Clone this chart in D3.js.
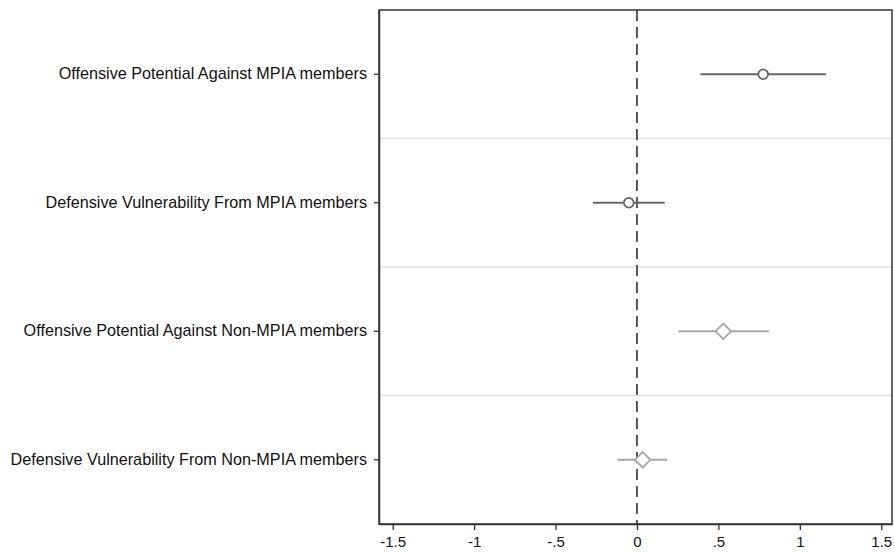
<!DOCTYPE html>
<html>
<head>
<meta charset="utf-8">
<script src="https://cdn.jsdelivr.net/npm/d3@7"></script>
<style>
  body { margin: 0; background: #fff; }
  svg { font-family: "Liberation Sans", Arial, sans-serif; }
</style>
</head>
<body>
<div id="chart"></div>
<script>
// coefficient plot data
var labels = [
    "Offensive Potential Against MPIA members",
    "Defensive Vulnerability From MPIA members",
    "Offensive Potential Against Non-MPIA members",
    "Defensive Vulnerability From Non-MPIA members"
]
var estimates = [0.775, -0.05, 0.53, 0.035]
var lower = [0.39, -0.27, 0.255, -0.12]
var upper = [1.16, 0.17, 0.81, 0.185]
var markers = ["circle", "circle", "diamond", "diamond"]
var xTicks = [-1.5, -1, -0.5, 0, 0.5, 1, 1.5]

var width = 895
var height = 553
var margin = { top: 10, right: 3, bottom: 29, left: 379 }

var svg = d3.select("#chart")
    .append("svg")
    .attr("width", width)
    .attr("height", height)

var x = d3.scaleLinear()
    .domain([-1.584, 1.566])
    .range([margin.left, width - margin.right])

var y = d3.scaleBand()
    .domain(labels)
    .range([margin.top, height - margin.bottom])

var colors = d3.scaleOrdinal()
    .domain(["circle", "diamond"])
    .range(["#666666", "#a6a6a6"])

// separators between rows
svg.selectAll(".sep")
    .data(labels.slice(1))
    .enter()
    .append("line")
    .attr("x1", x.range()[0])
    .attr("x2", x.range()[1])
    .attr("y1", function (d) { return y(d) })
    .attr("y2", function (d) { return y(d) })
    .attr("stroke", "#e0e0e0")
    .attr("stroke-width", 1.5)

// zero line
svg.append("line")
    .attr("x1", x(0)).attr("x2", x(0))
    .attr("y1", margin.top).attr("y2", height - margin.bottom)
    .attr("stroke", "#333")
    .attr("stroke-width", 1.6)
    .attr("stroke-dasharray", "11,6")

// frame
svg.append("rect")
    .attr("x", x.range()[0])
    .attr("y", margin.top)
    .attr("width", x.range()[1] - x.range()[0])
    .attr("height", height - margin.bottom - margin.top)
    .attr("fill", "none")
    .attr("stroke", "#333")
    .attr("stroke-width", 1.5)

// x axis (stata style: plain hyphen, no leading zero)
var xAxis = svg.append("g")
    .attr("transform", "translate(0," + (height - margin.bottom) + ")")
    .call(d3.axisBottom(x)
        .tickValues(xTicks)
        .tickSize(6)
        .tickSizeOuter(0)
        .tickFormat(function (d) {
            if (d === 0) return "0"
            return String(d).replace("0.", ".")
        }))
xAxis.select(".domain").attr("stroke", "#333").attr("stroke-width", 1.5)
xAxis.selectAll(".tick line").attr("stroke", "#333").attr("stroke-width", 1.3)
xAxis.selectAll("text").attr("font-size", 15).attr("fill", "#111").attr("dy", "0.9em")

// y axis
var yAxis = svg.append("g")
    .attr("transform", "translate(" + margin.left + ",0)")
    .call(d3.axisLeft(y).tickSize(5).tickSizeOuter(0).tickPadding(7))
yAxis.select(".domain").attr("stroke", "#333").attr("stroke-width", 1.5)
yAxis.selectAll(".tick line").attr("stroke", "#333").attr("stroke-width", 1.3)
yAxis.selectAll("text").attr("font-size", 16.2).attr("fill", "#111")

// confidence intervals
svg.selectAll(".ci")
    .data(labels)
    .enter()
    .append("line")
    .attr("x1", function (d, i) { return x(lower[i]) })
    .attr("x2", function (d, i) { return x(upper[i]) })
    .attr("y1", function (d) { return y(d) + y.bandwidth() / 2 })
    .attr("y2", function (d) { return y(d) + y.bandwidth() / 2 })
    .attr("stroke", function (d, i) { return colors(markers[i]) })
    .attr("stroke-width", 2)

// point estimates
var circleSym = d3.symbol().type(d3.symbolCircle).size(75)
var diamondSym = d3.symbol().type(d3.symbolSquare).size(120)
svg.selectAll(".pt")
    .data(labels)
    .enter()
    .append("path")
    .attr("d", function (d, i) { return markers[i] === "circle" ? circleSym() : diamondSym() })
    .attr("transform", function (d, i) {
        var t = "translate(" + x(estimates[i]) + "," + (y(d) + y.bandwidth() / 2) + ")"
        return markers[i] === "diamond" ? t + " rotate(45)" : t
    })
    .attr("fill", "#fff")
    .attr("stroke", function (d, i) { return colors(markers[i]) })
    .attr("stroke-width", 1.8)
</script>
</body>
</html>
